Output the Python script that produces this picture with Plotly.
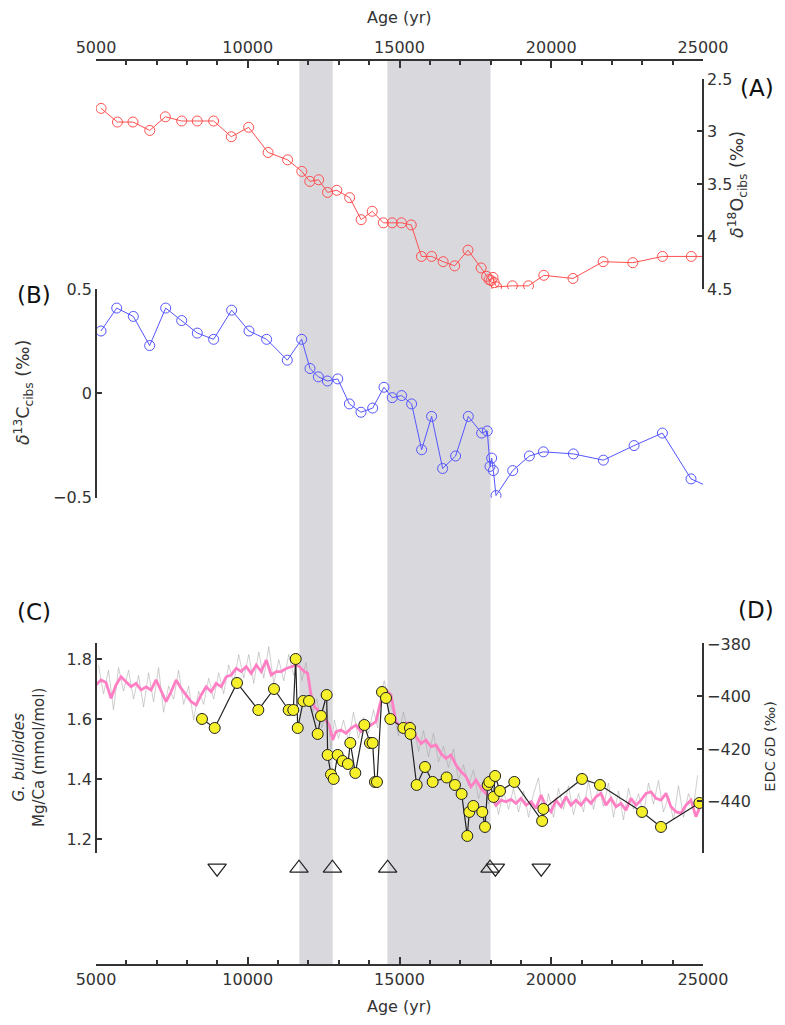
import plotly.graph_objects as go

# ---------------- data ----------------
# (A) benthic d18O (Cibicidoides)
d18o_age = [5167, 5707, 6218, 6773, 7284, 7824, 8335, 8875, 9459, 10029, 10671, 11314,
            11781, 12044, 12336, 12628, 12934, 13358, 13737, 14102, 14467, 14759, 15066,
            15387, 15723, 16059, 16438, 16818, 17256, 17690, 17870, 17950, 18020, 18080,
            18120, 18200, 18720, 19250, 19755, 20716, 21709, 22687, 23665, 24614, 25300]
d18o = [2.78, 2.91, 2.91, 2.99, 2.86, 2.90, 2.90, 2.90, 3.05, 2.96, 3.20, 3.27,
        3.38, 3.475, 3.46, 3.58, 3.56, 3.63, 3.84, 3.76, 3.87, 3.87, 3.87,
        3.89, 4.19, 4.19, 4.24, 4.28, 4.13, 4.30, 4.38, 4.41, 4.42, 4.39,
        4.44, 4.48, 4.47, 4.47, 4.37, 4.40, 4.24, 4.25, 4.19, 4.19, 4.19]

# (B) benthic d13C (Cibicidoides)
d13c_age = [5165, 5682, 6230, 6768, 7296, 7823, 8338, 8876, 9469, 10041, 10623, 11303,
            11777, 12051, 12326, 12624, 12965, 13349, 13731, 14116, 14489, 14760, 15070,
            15399, 15729, 16058, 16421, 16849, 17267, 17706, 17892, 17982, 18037, 18092,
            18180, 18730, 19279, 19741, 20730, 21718, 22729, 23663, 24605, 25300]
d13c = [0.30, 0.41, 0.37, 0.23, 0.41, 0.35, 0.29, 0.26, 0.40, 0.30, 0.26, 0.16,
        0.26, 0.12, 0.08, 0.06, 0.07, -0.05, -0.09, -0.07, 0.03, -0.02, -0.01,
        -0.05, -0.27, -0.11, -0.36, -0.30, -0.11, -0.19, -0.18, -0.35, -0.31, -0.37,
        -0.49, -0.37, -0.30, -0.28, -0.29, -0.32, -0.25, -0.19, -0.41, -0.455]

# (C) G. bulloides Mg/Ca
mgca_age = [8493, 8911, 9646, 10349, 10865, 11349, 11501, 11580, 11646, 11831, 12018,
            12304, 12414, 12600, 12633, 12743, 12831, 12962, 13127, 13300, 13380, 13544,
            13841, 14028, 14115, 14192, 14258, 14423, 14555, 14697, 15126, 15345, 15360,
            15565, 15840, 16092, 16553, 16828, 17047, 17234, 17300, 17432, 17728, 17817,
            17906, 17960, 18100, 18150, 18311, 18783, 19700, 19740, 21013, 21606, 22990,
            23616, 24879]
mgca = [1.60, 1.57, 1.72, 1.63, 1.70, 1.63, 1.63, 1.80, 1.57, 1.66, 1.66,
        1.55, 1.61, 1.68, 1.48, 1.415, 1.40, 1.48, 1.46, 1.45, 1.52, 1.42,
        1.58, 1.52, 1.52, 1.39, 1.39, 1.69, 1.67, 1.60, 1.57, 1.57, 1.55,
        1.38, 1.44, 1.39, 1.405, 1.38, 1.35, 1.21, 1.29, 1.31, 1.29, 1.24,
        1.38, 1.39, 1.34, 1.41, 1.36, 1.39, 1.26, 1.30, 1.40, 1.38, 1.29,
        1.24, 1.32]

# (D) EDC dD, smoothed (pink)
edc_age = [5000, 5165, 5330, 5495, 5660, 5825, 5990, 6155, 6320, 6485, 6650, 6815, 6980,
           7145, 7310, 7475, 7640, 7805, 7970, 8135, 8300, 8465, 8630, 8795, 8960, 9125,
           9290, 9455, 9620, 9785, 9950, 10115, 10280, 10445, 10610, 10775, 10940, 11105,
           11270, 11435, 11600,
           11700, 11865, 11975, 12084, 12194, 12359, 12523, 12688, 12798, 12908, 13072,
           13237, 13402, 13566, 13731, 13896, 14060, 14225, 14335, 14445, 14554, 14719,
           14884, 15049, 15213, 15378, 15543, 15708, 15872, 16037, 16202, 16366, 16531,
           16696, 16860, 17025, 17190, 17354, 17519, 17684, 17848, 18013,
           18180, 18345, 18509, 18674, 18839, 19004, 19168, 19333, 19498, 19662, 19827,
           19992, 20156, 20321, 20486, 20650, 20815, 20980, 21145, 21309, 21474, 21639,
           21803, 21968, 22133, 22297, 22462, 22627, 22792, 22956, 23121, 23286, 23450,
           23615, 23780, 23945, 24109, 24274, 24439, 24603, 24768, 24878]
edc_dD = [-395.6, -393.7, -394.7, -400.7, -395.6, -392.5, -394.4, -396.3, -395.0, -397.5,
          -396.3, -397.5, -393.7, -398.2, -402.0, -398.2, -393.7, -396.9, -399.4, -402.0,
          -403.2, -399.4, -396.3, -398.2, -395.0, -396.3, -392.5, -391.8, -389.3, -390.5,
          -388.6, -391.2, -388.0, -390.5, -386.1, -391.8, -390.5, -390.5, -389.3, -388.6,
          -388.0,
          -388.6, -390.5, -391.2, -399.4, -403.9, -405.8, -408.3, -410.9, -416.6, -413.4,
          -412.8, -414.0, -412.1, -410.9, -413.4, -412.1, -410.9, -409.6, -403.9, -399.4,
          -397.5, -399.4, -409.6, -411.5, -410.2, -410.2, -415.3, -417.9, -416.6, -419.1,
          -418.5, -421.7, -423.6, -422.3, -426.1, -428.6, -430.5, -434.4, -431.8, -435.0,
          -436.9, -438.2,
          -441.4, -439.5, -440.1, -439.2, -440.7, -438.8, -441.4, -440.1, -442.6, -437.6,
          -442.0, -443.9, -439.5, -442.0, -438.2, -441.4, -439.5, -441.4, -438.8, -440.7,
          -438.2, -436.9, -441.4, -438.8, -442.0, -440.7, -443.3, -438.8, -441.4, -439.5,
          -436.9, -436.3, -438.8, -439.5, -436.9, -442.0, -443.9, -444.5, -441.4, -439.5,
          -445.8, -442.6]

# EDC dD, raw (grey)
edc_raw_age = [5082, 5247, 5412, 5577, 5742, 5907, 6072, 6237, 6402, 6567, 6732, 6897, 7062,
               7227, 7392, 7557, 7722, 7887, 8052, 8217, 8382, 8547, 8712, 8877, 9042, 9207,
               9372, 9537, 9702, 9867, 10032, 10197, 10362, 10527, 10692, 10857, 11022, 11187,
               11352, 11517, 11650, 11782, 11920, 12030, 12140, 12276, 12441, 12605, 12743,
               12853, 12990, 13155, 13320, 13484, 13649, 13814, 13978, 14143, 14280, 14390,
               14500, 14637, 14800, 14967, 15131, 15296, 15460, 15625, 15790, 15955, 16120,
               16284, 16449, 16614, 16778, 16943, 17108, 17272, 17437, 17602, 17766, 17930,
               18097, 18262, 18427, 18592, 18757, 18922, 19086, 19251, 19416, 19580, 19745,
               19910, 20074, 20239, 20404, 20568, 20733, 20898, 21063, 21227, 21392, 21557,
               21721, 21886, 22051, 22215, 22380, 22545, 22710, 22874, 23039, 23204, 23368,
               23533, 23698, 23862, 24027, 24192, 24357, 24521, 24686, 24823]
edc_raw = [-388, -399, -390, -405, -389, -398, -390, -401, -392, -404, -391, -402, -389,
           -406, -396, -401, -390, -403, -396, -409, -398, -403, -393, -401, -391, -399,
           -388, -395, -384, -393, -384, -395, -383, -393, -381, -395, -386, -394,
           -384, -392, -384, -394, -387, -396, -406, -401, -412, -405, -420,
           -409, -416, -409, -417, -406, -416, -408, -414, -405, -412, -399,
           -394, -402, -406, -415, -406, -414, -411, -421, -413, -423, -414,
           -425, -419, -427, -420, -432, -426, -434, -428, -439, -432, -441,
           -435, -445, -436, -443, -435, -444, -436, -446, -437, -431, -447,
           -437, -446, -435, -443, -434, -445, -437, -444, -432, -443, -434,
           -442, -433, -446, -436, -447, -435, -443, -437, -445, -433, -441,
           -432, -444, -438, -447, -434, -446, -437, -442, -430]

# age-model tie points (up: open up-triangles, down: open down-triangles)
tie_up_age = [11689, 12790, 14610, 17982]
tie_down_age = [8990, 18160, 19670]
tie_row = 0.107

shade_ranges = [(11700, 12800), (14600, 18000)]
age_ticks = [5000, 10000, 15000, 20000, 25000]
age_ticklabels = ["5000", "10000", "15000", "20000", "25000"]

# ---------------- figure ----------------
FONT = "DejaVu Sans"
AX = "#333333"
fig = go.Figure()

fig.add_trace(go.Scatter(x=edc_raw_age, y=edc_raw, xaxis="x", yaxis="y3", mode="lines",
                         line=dict(color="rgba(160,160,160,0.5)", width=1), hoverinfo="skip"))
fig.add_trace(go.Scatter(x=edc_age, y=edc_dD, xaxis="x", yaxis="y3", mode="lines",
                         line=dict(color="#ff7fc4", width=2.8)))
fig.add_trace(go.Scatter(x=d18o_age, y=d18o, xaxis="x", yaxis="y", mode="lines+markers",
                         line=dict(color="#ff5050", width=1),
                         marker=dict(symbol="circle-open", size=10, color="#ff5050",
                                     line=dict(width=1))))
fig.add_trace(go.Scatter(x=d13c_age, y=d13c, xaxis="x", yaxis="y2", mode="lines+markers",
                         line=dict(color="#5555ff", width=1),
                         marker=dict(symbol="circle-open", size=10, color="#5555ff",
                                     line=dict(width=1))))
fig.add_trace(go.Scatter(x=mgca_age, y=mgca, xaxis="x", yaxis="y4", mode="lines+markers",
                         line=dict(color="#222222", width=1.2),
                         marker=dict(symbol="circle", size=11, color="#f6f02a",
                                     line=dict(color="#222222", width=1))))
fig.add_trace(go.Scatter(x=tie_up_age, y=[tie_row] * len(tie_up_age), xaxis="x", yaxis="y5",
                         mode="markers", cliponaxis=False,
                         marker=dict(symbol="triangle-up-open", size=16, color="#222222",
                                     line=dict(width=1.2))))
fig.add_trace(go.Scatter(x=tie_down_age, y=[tie_row] * len(tie_down_age), xaxis="x", yaxis="y5",
                         mode="markers", cliponaxis=False,
                         marker=dict(symbol="triangle-down-open", size=16, color="#222222",
                                     line=dict(width=1.2))))
# dummy trace for the top axis
fig.add_trace(go.Scatter(x=[5000, 25000], y=[None, None], xaxis="x2", yaxis="y5",
                         mode="lines", hoverinfo="skip"))

for a, b in shade_ranges:
    fig.add_shape(type="rect", xref="x", yref="paper", x0=a, x1=b, y0=0, y1=1,
                  fillcolor="#d9d8dd", line=dict(width=0), layer="below")

tickfont = dict(family=FONT, size=16, color=AX)
xcommon = dict(range=[5000, 25000], tickvals=age_ticks, ticktext=age_ticklabels,
               ticks="inside", ticklen=7, tickwidth=1.5, tickcolor=AX, automargin=False,
               showline=True, linecolor=AX, linewidth=1.8, showgrid=False, zeroline=False,
               tickfont=tickfont,
               minor=dict(ticks="inside", ticklen=4, tickwidth=1.5, tickcolor=AX, dtick=1000,
                          showgrid=False))
ycommon = dict(ticks="inside", ticklen=5, tickwidth=1.5, tickcolor=AX, showline=True,
               automargin=False, linecolor=AX, linewidth=1.8, showgrid=False, zeroline=False,
               tickfont=tickfont)

# the page body has an 8 px margin: the figure is sized so that it fills the window exactly
fig.update_layout(
    width=777, height=1009,
    margin=dict(l=88, r=82, t=52, b=52, autoexpand=False),
    paper_bgcolor="white", plot_bgcolor="white",
    showlegend=False,
    font=dict(family=FONT, color=AX),
    xaxis=dict(**xcommon, domain=[0, 1], anchor="free", position=0),
    xaxis2=dict(**xcommon, overlaying="x", side="top", anchor="free", position=1),
    yaxis=dict(**ycommon, domain=[0.747, 0.979], range=[4.5, 2.5], anchor="free", position=1,
               side="right", tickvals=[2.5, 3, 3.5, 4, 4.5]),
    yaxis2=dict(**ycommon, domain=[0.5164, 0.7466], range=[-0.5, 0.5], anchor="free", position=0,
                side="left", tickvals=[-0.5, 0, 0.5]),
    yaxis3=dict(**ycommon, domain=[0.1238, 0.3558], range=[-459.62, -379.62], anchor="free",
                position=1, side="right", tickvals=[-460, -440, -420, -400, -380]),
    yaxis4=dict(**ycommon, overlaying="y3", range=[1.1533, 1.8533], anchor="free", position=0,
                side="left", tickvals=[1.2, 1.4, 1.6, 1.8]),
    yaxis5=dict(domain=[0, 0.12], range=[0, 0.12], visible=False, fixedrange=True),
)

ann = []
tfont_big = dict(family=FONT, size=17.5, color=AX)
tfont = dict(family=FONT, size=15, color=AX)
ann.append(dict(text="Age (yr)", x=0.5, y=1.0475, font=dict(family=FONT, size=16, color=AX)))
ann.append(dict(text="Age (yr)", x=0.5, y=-0.0464, font=dict(family=FONT, size=16, color=AX)))
ann.append(dict(text="<i>δ</i><sup>18</sup>O<sub>cibs</sub> (‰)", x=1.0577, y=0.862,
                textangle=-90, font=tfont_big))
ann.append(dict(text="<i>δ</i><sup>13</sup>C<sub>cibs</sub> (‰)", x=-0.1203, y=0.633,
                textangle=-90, font=tfont_big))
ann.append(dict(text="<i>G. bulloides</i><br>Mg/Ca (mmol/mol)", x=-0.110, y=0.229,
                textangle=-90, font=tfont))
ann.append(dict(text="EDC <i>δ</i>D (‰)", x=1.110, y=0.241, textangle=-90,
                font=dict(family=FONT, size=14.5, color=AX)))
pfont = dict(family=FONT, size=23, color="#111111")
for lab, x, y in [("(A)", 1.089, 0.969), ("(B)", -0.102, 0.740), ("(C)", -0.102, 0.390),
                  ("(D)", 1.087, 0.392)]:
    ann.append(dict(text=lab, x=x, y=y, font=pfont))
for a in ann:
    a.update(xref="paper", yref="paper", showarrow=False, xanchor="center", yanchor="middle")
fig.update_layout(annotations=ann)

fig.write_html("out.html")
